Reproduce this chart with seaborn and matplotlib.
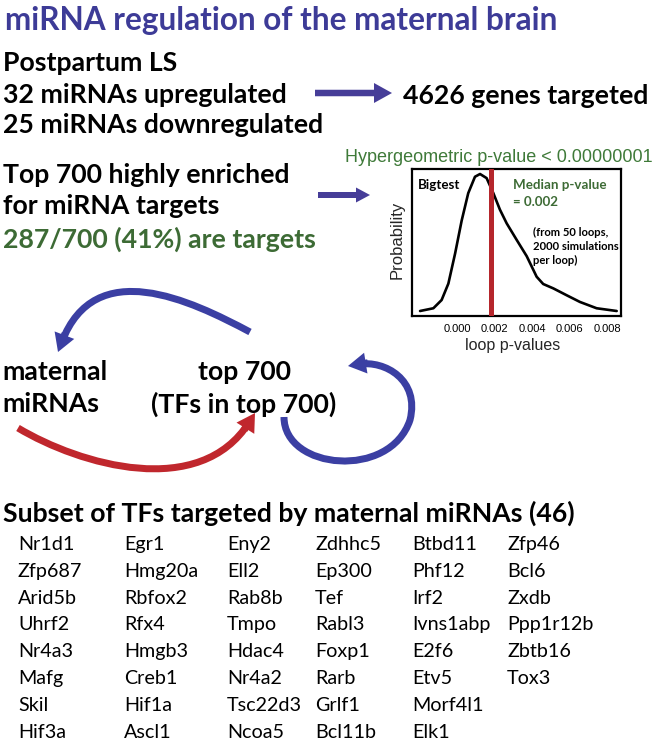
import numpy as np
import matplotlib
matplotlib.use('Agg')
import matplotlib.pyplot as plt
import seaborn as sns
from matplotlib.patches import FancyArrowPatch, PathPatch, ArrowStyle
from matplotlib.path import Path

# ---------------- data ----------------
loop_p = [-0.00197, -0.00126, -0.00082, -0.00046, -0.00010, 0.00025, 0.00060,
          0.00096, 0.00123, 0.00158, 0.00194, 0.00229, 0.00265, 0.00318,
          0.00372, 0.00425, 0.00460, 0.00514, 0.00585, 0.00656, 0.00745, 0.00852]
density = [0.00, 0.02, 0.08, 0.20, 0.42, 0.66, 0.86, 0.98, 1.00, 0.97, 0.86,
           0.74, 0.64, 0.52, 0.40, 0.25, 0.197, 0.165, 0.115, 0.066, 0.02, 0.00]
median_p = 0.0018
xtick_vals = [0.000, 0.002, 0.004, 0.006, 0.008]
xtick_labels = ["0.000", "0.002", "0.004", "0.006", "0.008"]

tf_columns = [
    ["Nr1d1", "Zfp687", "Arid5b", "Uhrf2", "Nr4a3", "Mafg", "Skil", "Hif3a"],
    ["Egr1", "Hmg20a", "Rbfox2", "Rfx4", "Hmgb3", "Creb1", "Hif1a", "Ascl1"],
    ["Eny2", "Ell2", "Rab8b", "Tmpo", "Hdac4", "Nr4a2", "Tsc22d3", "Ncoa5"],
    ["Zdhhc5", "Ep300", "Tef", "Rabl3", "Foxp1", "Rarb", "Grlf1", "Bcl11b"],
    ["Btbd11", "Phf12", "Irf2", "Ivns1abp", "E2f6", "Etv5", "Morf4l1", "Elk1"],
    ["Zfp46", "Bcl6", "Zxdb", "Ppp1r12b", "Zbtb16", "Tox3"],
]

# ---------------- style ----------------
sns.set_theme(style="white")
plt.rcParams['font.family'] = ['Lato', 'DejaVu Sans']

TITLE_BLUE = '#3d3b97'
ARROW_PURPLE = '#463d98'
LOOP_BLUE = '#3b3fa3'
RED = '#c0272d'
GREEN = '#3d6b35'
GREEN2 = '#3f7a39'
BOLD_FONT = ['Lato', 'DejaVu Sans']
PLOT_FONT = ['Liberation Sans', 'DejaVu Sans']

fig = plt.figure(figsize=(6.52, 7.44), dpi=100)
ax0 = fig.add_axes([0, 0, 1, 1])
ax0.set_xlim(0, 652)
ax0.set_ylim(744, 0)
ax0.axis('off')
renderer = fig.canvas.get_renderer()


def fit_size(text, width, family, weight, base=20.0):
    t = ax0.text(0, 0, text, fontsize=base, family=family, weight=weight)
    w = t.get_window_extent(renderer).width
    t.remove()
    return base * width / w


def put(x, y, s, size, family=BOLD_FONT, weight='bold', color='black', ha='left'):
    ax0.text(x, y, s, fontsize=size, family=family, weight=weight, color=color,
             ha=ha, va='center_baseline')


s_title = fit_size("miRNA regulation of the maternal brain", 553, BOLD_FONT, 'bold')
s_big = fit_size("Top 700 highly enriched", 287, BOLD_FONT, 'bold')
s_gene = fit_size("Btbd11", 65, BOLD_FONT, 'normal')

put(5, 18, "miRNA regulation of the maternal brain", s_title, color=TITLE_BLUE)
put(3, 61, "Postpartum LS", s_big)
put(3, 93, "32 miRNAs upregulated", s_big)
put(3, 123, "25 miRNAs downregulated", s_big)
put(403, 94, "4626 genes targeted", s_big)
put(3, 173, "Top 700 highly enriched", s_big)
put(3, 204, "for miRNA targets", s_big)
put(3, 237, "287/700 (41%) are targets", s_big, color=GREEN)
put(2, 370, "maternal", s_big)
put(2, 402, "miRNAs", s_big)
put(244, 370, "top 700", s_big, ha='center')
put(244, 402, "(TFs in top 700)", s_big, ha='center')
put(3, 511, "Subset of TFs targeted by maternal miRNAs (46)", s_big)

col_x = [18, 124, 227, 315, 412, 507]
for cx, col in zip(col_x, tf_columns):
    for i, g in enumerate(col):
        put(cx, 543 + 26.8 * i, g, s_gene, weight='normal')

s_hyper = fit_size("Hypergeometric p-value < 0.00000001", 306, PLOT_FONT, 'normal')
put(345, 155, "Hypergeometric p-value < 0.00000001", s_hyper, family=PLOT_FONT,
    weight='normal', color=GREEN2)

# straight arrows
px = 72.0 / fig.dpi
def straight_arrow(p0, p1, tail, hw, hl, color):
    st = ArrowStyle('simple', head_length=hl, head_width=hw, tail_width=tail)
    ax0.add_patch(FancyArrowPatch(p0, p1, arrowstyle=st, mutation_scale=px,
                                  color=color, lw=0, shrinkA=0, shrinkB=0))

straight_arrow((315, 93), (392, 93), 6.5, 20, 18, ARROW_PURPLE)
straight_arrow((318, 195), (370, 195), 6.0, 15, 14, ARROW_PURPLE)

# curved arrows
def curved_arrow(verts, codes, color, lw_px=7, hw=21, hl=18):
    verts = np.asarray(verts, float)
    tip = verts[-1]
    d = verts[-1] - verts[-2]
    d = d / np.linalg.norm(d)
    body = verts.copy()
    body[-1] = tip - d * (hl * 0.6)
    ax0.add_patch(PathPatch(Path(body, codes), fill=False, edgecolor=color,
                            lw=lw_px * px, capstyle='butt'))
    st = ArrowStyle('simple', head_length=hl, head_width=hw, tail_width=lw_px)
    ax0.add_patch(FancyArrowPatch(tuple(tip - d * (hl + 2)), tuple(tip), arrowstyle=st,
                                  mutation_scale=px, color=color, lw=0,
                                  shrinkA=0, shrinkB=0))

C4 = [Path.MOVETO, Path.CURVE4, Path.CURVE4, Path.CURVE4]
curved_arrow([(250, 332), (190, 300), (95, 255), (58, 352)], C4, LOOP_BLUE)
curved_arrow([(18, 428), (80, 465), (200, 500), (255, 413)], C4, RED)
curved_arrow([(284, 417), (284, 470), (390, 480), (410, 420),
              (420, 380), (385, 360), (348, 366)],
             C4 + [Path.CURVE4] * 3, LOOP_BLUE)

# ---------------- density inset ----------------
L, R, T, B = 412, 621, 169, 316
ax1 = fig.add_axes([L / 652, 1 - B / 744, (R - L) / 652, (B - T) / 744])
ax1.set_zorder(5)
sns.lineplot(x=loop_p, y=density, ax=ax1, color='black', lw=1.9)
ax1.axvline(median_p, color='#b5262c', lw=3.6, zorder=4)
ax1.set_xlim(-0.0024, 0.00875)
ax1.set_ylim(-0.0365, 1.0365)
ax1.set_xticks(xtick_vals)
ax1.set_xticklabels(xtick_labels, family=PLOT_FONT, fontsize=8)
ax1.set_yticks([])
ax1.tick_params(axis='x', length=0, pad=6, colors='black')
for sp in ax1.spines.values():
    sp.set_visible(True)
    sp.set_color('black')
    sp.set_linewidth(1.6)
ax1.set_xlabel('')
ax1.set_ylabel('')
ax1.text(0.483, -0.19, 'loop p-values', transform=ax1.transAxes, ha='center',
         va='center_baseline', family=PLOT_FONT, fontsize=11.5)
ax1.text(-0.072, 0.517, 'Probability', transform=ax1.transAxes, ha='center',
         va='center', rotation=90, family=PLOT_FONT, fontsize=12)

s_in = fit_size("2000 simulations", 86, BOLD_FONT, 'bold')
s_big_in = fit_size("Median p-value", 93, BOLD_FONT, 'bold')

def put1(x, y, s, size, color='black'):
    ax1.text((x - L) / (R - L), (B - y) / (B - T), s, transform=ax1.transAxes,
             fontsize=size, family=BOLD_FONT, weight='bold', color=color,
             ha='left', va='center_baseline')

put1(418, 184, "Bigtest", s_big_in)
put1(513, 184, "Median p-value", s_big_in, color=GREEN)
put1(513, 201, "= 0.002", s_big_in, color=GREEN)
put1(533, 231, "(from 50 loops,", s_in)
put1(533, 245, "2000 simulations", s_in)
put1(533, 259, "per loop)", s_in)

fig.savefig('out.png', dpi=100)
